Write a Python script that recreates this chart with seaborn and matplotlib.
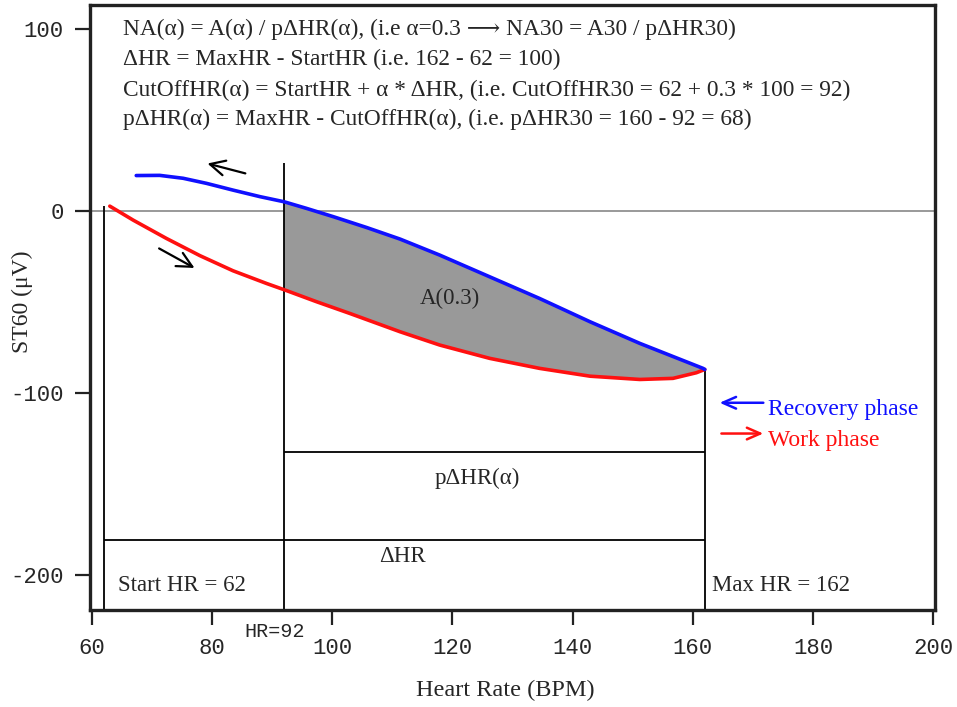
import numpy as np
import pandas as pd
import matplotlib
matplotlib.use("Agg")
import matplotlib.pyplot as plt
import seaborn as sns

# Work (exercise) phase: ST60 vs heart rate, rising HR
work_hr = [63.0, 66.9, 72.4, 78.0, 83.5, 89.1, 92.0, 97.4, 102.9, 111.3, 117.9,
           126.2, 134.5, 142.9, 151.2, 156.7, 160.6, 162.0]
work_st = [2.7, -5.0, -15.0, -24.5, -32.8, -39.8, -43.2, -49.8, -56.2, -66.3, -73.6,
           -80.9, -86.4, -90.7, -92.5, -91.9, -88.8, -87.0]

# Recovery phase: ST60 vs heart rate, falling HR
rec_hr = [67.4, 71.3, 75.2, 79.1, 83.5, 88.0, 92.0, 95.7, 100.2, 105.7, 111.3, 117.9,
          126.2, 134.5, 142.9, 151.2, 161.7, 162.0]
rec_st = [19.5, 19.6, 18.0, 15.2, 11.5, 7.9, 5.1, 1.5, -3.1, -9.0, -15.4, -24.2,
          -36.1, -48.0, -60.8, -72.7, -86.4, -87.0]

# Heart-rate landmarks
START_HR = 62
CUTOFF_HR = 92
MAX_HR = 162
CUTOFF_TOP = 26.4
PDHR_LEVEL = -132.6
DHR_LEVEL = -180.8

x_ticks = [60, 80, 100, 120, 140, 160, 180, 200]
y_ticks = [-200, -100, 0, 100]

formula_lines = [
    "NA(α) = A(α) / pΔHR(α), (i.e α=0.3 ⟶ NA30 = A30 / pΔHR30)",
    "ΔHR = MaxHR - StartHR (i.e. 162 - 62 = 100)",
    "CutOffHR(α) = StartHR + α * ΔHR, (i.e. CutOffHR30 = 62 + 0.3 * 100 = 92)",
    "pΔHR(α) = MaxHR - CutOffHR(α), (i.e. pΔHR30 = 160 - 92 = 68)",
]

sns.set_theme(style="white")
plt.rcParams["font.family"] = ["Liberation Serif", "DejaVu Serif"]

SERIF = ["Liberation Serif", "DejaVu Serif"]
MONO = ["Liberation Mono", "DejaVu Sans Mono"]
BLUE = "#1010ff"
RED = "#ff1010"
TXT = 16.5

df = pd.concat([
    pd.DataFrame({"hr": work_hr, "st": work_st, "phase": "Work phase"}),
    pd.DataFrame({"hr": rec_hr, "st": rec_st, "phase": "Recovery phase"}),
])

fig = plt.figure(figsize=(9.57, 7.07), dpi=100)
ax = fig.add_axes([0.094, 0.137, 0.883, 0.856])

# shaded area A(0.3) between the two curves, from the cut-off HR to max HR
rec_seg = [(h, s) for h, s in zip(rec_hr, rec_st) if h >= CUTOFF_HR]
work_seg = [(h, s) for h, s in zip(work_hr, work_st) if h >= CUTOFF_HR]
poly = rec_seg + work_seg[::-1]
ax.fill([p[0] for p in poly], [p[1] for p in poly], color="#999999", lw=0, zorder=1)

ax.axhline(0, color="#888888", lw=1.2, zorder=0.5)

sns.lineplot(data=df, x="hr", y="st", hue="phase", estimator=None, sort=False,
             palette={"Work phase": RED, "Recovery phase": BLUE},
             linewidth=2.6, legend=False, ax=ax, zorder=3)
for ln in ax.lines:
    ln.set_solid_joinstyle("round")
    ln.set_solid_capstyle("round")

# construction lines
ax.vlines(START_HR, -219, 2.7, color="black", lw=1.3, zorder=2)
ax.vlines(CUTOFF_HR, -219, CUTOFF_TOP, color="black", lw=1.3, zorder=2)
ax.vlines(MAX_HR, -219, -87, color="black", lw=1.3, zorder=2)
ax.hlines(PDHR_LEVEL, CUTOFF_HR, MAX_HR, color="black", lw=1.3, zorder=2)
ax.hlines(DHR_LEVEL, START_HR, MAX_HR, color="black", lw=1.3, zorder=2)

# direction arrows
arrow = dict(arrowstyle="->,head_length=0.9,head_width=0.45", color="black", lw=1.6)
ax.annotate("", xy=(78.8, 26.5), xytext=(86.0, 20.3), arrowprops=arrow)
ax.annotate("", xy=(77.5, -32.0), xytext=(70.8, -19.8), arrowprops=arrow)

# legend arrows and text
ax.annotate("", xy=(164.0, -105.3), xytext=(172.2, -105.3),
            arrowprops=dict(arrowstyle="->,head_length=0.8,head_width=0.35", color=BLUE, lw=1.8))
ax.annotate("", xy=(172.2, -122.2), xytext=(164.3, -122.2),
            arrowprops=dict(arrowstyle="->,head_length=0.8,head_width=0.35", color=RED, lw=1.8))
ax.text(172.5, -109, "Recovery phase", color=BLUE, fontsize=17, family=SERIF, va="center", ha="left")
ax.text(172.5, -126, "Work phase", color=RED, fontsize=17, family=SERIF, va="center", ha="left")

# annotations
ax.text(119.6, -47.8, "A(0.3)", fontsize=TXT, family=SERIF, ha="center", va="center")
ax.text(124.1, -146.7, "pΔHR(α)", fontsize=TXT, family=SERIF, ha="center", va="center")
ax.text(111.7, -190.0, "ΔHR", fontsize=TXT, family=SERIF, ha="center", va="center")
ax.text(64.3, -205.5, "Start HR = 62", fontsize=TXT, family=SERIF, ha="left", va="center")
ax.text(163.2, -205.5, "Max HR = 162", fontsize=TXT, family=SERIF, ha="left", va="center")

for line, yv in zip(formula_lines, [99.5, 83.0, 66.5, 50.5]):
    ax.text(65.2, yv, line, fontsize=16.8, family=SERIF, ha="left", va="center")

ax.annotate("HR=92", xy=(90.4, -0.036), xycoords=("data", "axes fraction"),
            ha="center", va="center", fontsize=14.5, family=MONO, annotation_clip=False)

ax.set_xlim(59.7, 200.3)
ax.set_ylim(-219.2, 113.2)
ax.set_xticks(x_ticks)
ax.set_yticks(y_ticks)
ax.set_xticklabels([str(v) for v in x_ticks], family=MONO, fontsize=16)
ax.set_yticklabels([str(v) for v in y_ticks], family=MONO, fontsize=16)
ax.tick_params(axis="both", direction="out", length=11, width=1.6, color="#222222",
               bottom=True, left=True)
ax.tick_params(axis="y", pad=8)
ax.tick_params(axis="x", pad=9)

for sp in ax.spines.values():
    sp.set_linewidth(2.4)
    sp.set_color("#222222")

ax.set_xlabel("Heart Rate (BPM)", fontsize=17.5, family=SERIF)
ax.set_ylabel("ST60 (μV)", fontsize=17, family=SERIF)
ax.xaxis.set_label_coords(0.491, -0.132)
ax.xaxis.label.set_va("center")
ax.yaxis.set_label_coords(-0.0805, 0.509)
ax.yaxis.label.set_va("center")

fig.savefig("out.png", dpi=100)
